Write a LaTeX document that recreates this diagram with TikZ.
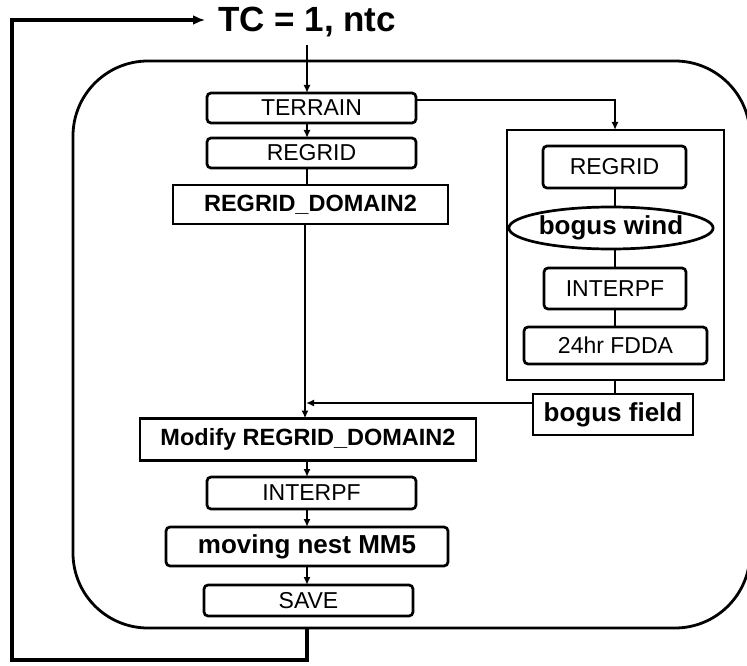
\documentclass[tikz,border=0pt]{standalone}
\usepackage{fontspec}
\setmainfont{Liberation Sans}
\usetikzlibrary{arrows.meta,shapes.geometric}
\begin{document}
\begin{tikzpicture}[x=1pt,y=-1pt,
  every node/.style={inner sep=0pt,outer sep=0pt},
  rbox/.style={draw,line width=2.7pt,rounded corners=4pt,font=\fontsize{23}{23}\selectfont},
  sbox/.style={draw,line width=2.7pt,font=\fontsize{23.5}{23.5}\selectfont\bfseries},
  conn/.style={line width=2.3pt},
  arr/.style={line width=2.3pt,-{Latex[length=8pt,width=7pt]}},
]
\useasboundingbox (0,0) rectangle (747,666);
% outer rounded container
\draw[line width=2.8pt,rounded corners=75pt] (73,61) rectangle (750,628);
% title
\node[font=\fontsize{35}{35}\selectfont\bfseries] (tc) at (307,22) {TC = 1, ntc};
% left column
\node[rbox,minimum width=209pt,minimum height=30pt] (terrain) at (311.5,108) {TERRAIN};
\node[rbox,minimum width=209pt,minimum height=30pt] (regrid) at (311.5,153) {REGRID};
\node[sbox,minimum width=275pt,minimum height=39pt] (rd2) at (310.5,204.5) {REGRID\_DOMAIN2};
\node[sbox,minimum width=336pt,minimum height=42pt] (mod) at (308,439.5) {Modify REGRID\_DOMAIN2};
\node[rbox,minimum width=209pt,minimum height=32pt] (interp) at (311.5,493) {INTERPF};
\node[rbox,minimum width=282pt,minimum height=39pt,font=\fontsize{26}{26}\selectfont\bfseries] (mm5) at (307,546.5) {moving nest MM5};
\node[rbox,minimum width=209pt,minimum height=31pt] (save) at (308.5,600.5) {SAVE};
% right column
\node[draw,line width=2.7pt,minimum width=217pt,minimum height=250pt] (bigbox) at (615.5,255) {};
\node[rbox,minimum width=143pt,minimum height=42pt] (rregrid) at (614.5,167) {REGRID};
\node[draw,ellipse,line width=2.7pt,minimum width=194pt,minimum height=42pt,font=\fontsize{26}{26}\selectfont\bfseries] (wind) at (611,228) {bogus wind};
\node[rbox,minimum width=142pt,minimum height=41pt] (rinterp) at (615,288.5) {INTERPF};
\node[rbox,minimum width=183pt,minimum height=37pt] (fdda) at (615.5,345.5) {24hr FDDA};
\node[sbox,minimum width=160pt,minimum height=41pt,font=\fontsize{26}{26}\selectfont\bfseries] (field) at (613,414.5) {bogus field};
% coordinates
\coordinate (tcbot) at (307,45);
\coordinate (tright) at (416,100);
\coordinate (tturn) at (615,100);
\coordinate (merge) at (305,403);
\coordinate (lp1) at (307,628);
\coordinate (lp2) at (307,660);
\coordinate (lp3) at (12,660);
\coordinate (lp4) at (12,20);
% connectors
\draw[arr] (tcbot) -- (terrain.north -| tcbot);
\draw[arr] (terrain.south -| tcbot) -- (regrid.north -| tcbot);
\draw[conn] (regrid.south -| tcbot) -- (rd2.north -| tcbot);
\draw[arr] (rd2.south -| merge) -- (mod.north -| merge);
\draw[arr] (field.west |- merge) -- ([xshift=1pt]merge);
\draw[arr] (mod.south -| tcbot) -- (interp.north -| tcbot);
\draw[arr] (interp.south -| tcbot) -- (mm5.north -| tcbot);
\draw[arr] (mm5.south -| tcbot) -- (save.north -| tcbot);
\draw[arr] (tright) -- (tturn) -- (bigbox.north -| tturn);
\draw[conn] (rregrid.south -| tturn) -- (wind.north -| tturn);
\draw[conn] (wind.south -| tturn) -- (rinterp.north -| tturn);
\draw[conn] (rinterp.south -| tturn) -- (fdda.north -| tturn);
\draw[conn] (bigbox.south -| tturn) -- (field.north -| tturn);
% loop back
\draw[line width=4.2pt,-{Latex[length=12pt,width=10pt]}] (lp1) -- (lp2) -- (lp3) -- (lp4) -- ([xshift=-13pt]tc.west |- lp4);
\end{tikzpicture}
\end{document}
